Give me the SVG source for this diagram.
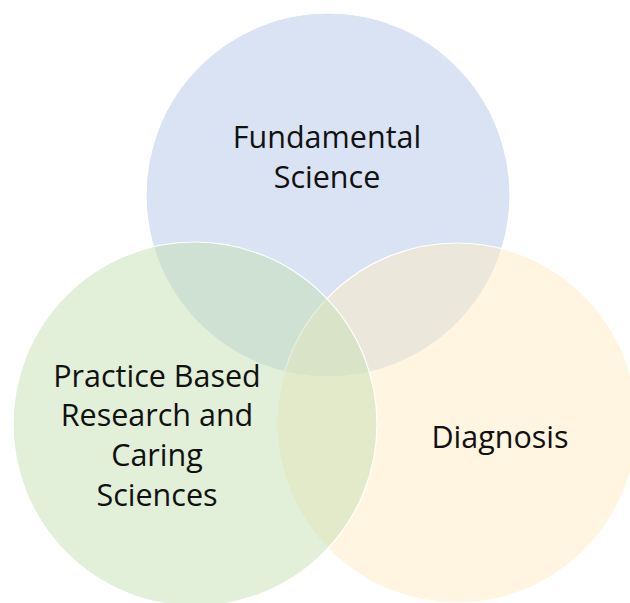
<svg xmlns="http://www.w3.org/2000/svg" width="630" height="603" viewBox="0 0 630 603">
<style>
.c{stroke:#ffffff;stroke-width:1.2}
.t{font-family:"Open Sans","Liberation Sans",sans-serif;font-size:30.5px;fill:#111;text-anchor:middle}
</style>
<rect width="630" height="603" fill="#ffffff"/>
<g id="fundamental">
<circle class="c" cx="328" cy="195" r="182" fill="#B4C7E7" fill-opacity="0.5"/>
</g>
<g id="diagnosis">
<circle class="c" cx="457" cy="423" r="180" fill="#FFECC4" fill-opacity="0.5"/>
</g>
<g id="practice">
<circle class="c" cx="195" cy="424" r="182" fill="#C5E0B4" fill-opacity="0.5"/>
</g>
<g id="labels">
<text class="t" x="327" y="148">Fundamental</text>
<text class="t" x="327" y="188">Science</text>
<text class="t" x="157" y="387">Practice Based</text>
<text class="t" x="157" y="426">Research and</text>
<text class="t" x="157" y="466">Caring</text>
<text class="t" x="157" y="506">Sciences</text>
<text class="t" x="500" y="448">Diagnosis</text>
</g>
<g id="connectors"/>
</svg>
